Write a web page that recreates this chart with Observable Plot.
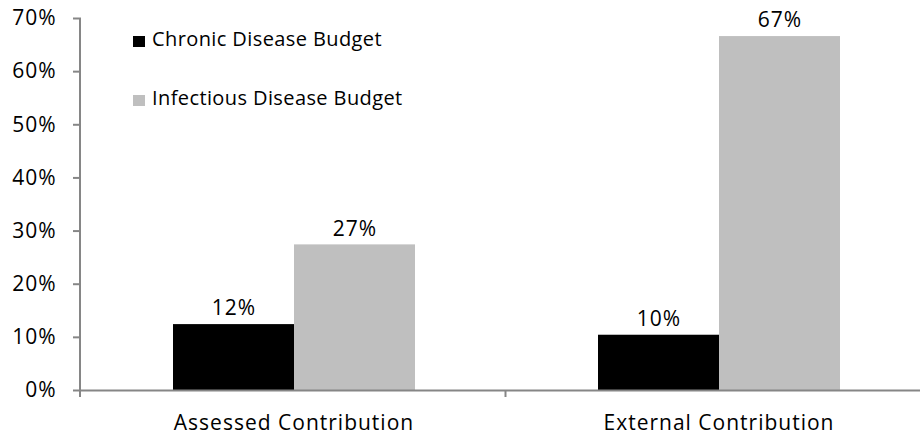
<!DOCTYPE html>
<html>
<head>
<meta charset="utf-8">
<script src="https://cdn.jsdelivr.net/npm/d3@7"></script>
<script src="https://cdn.jsdelivr.net/npm/@observablehq/plot@0.6"></script>
<style>
  html, body { margin: 0; padding: 0; background: #fff; }
  #wrap { position: relative; width: 920px; height: 437px; font-family: "Open Sans", sans-serif; }
  #wrap svg text { letter-spacing: 1px; }
  .legend { position: absolute; left: 133px; font-size: 20px; line-height: 27px; color: #000; white-space: nowrap; letter-spacing: 0.4px; }
  .legend .sw { width: 12px; height: 11px; margin-right: 7px; display: inline-block; vertical-align: -1px; }
</style>
</head>
<body>
<div id="wrap"></div>
<script>
const categories = ["Assessed Contribution", "External Contribution"];
const seriesNames = ["Chronic Disease Budget", "Infectious Disease Budget"];
const chronicValues = [12.4, 10.4];
const infectiousValues = [27.4, 66.6];
const yTicks = [0, 10, 20, 30, 40, 50, 60, 70];
const seriesColors = ["#000000", "#bfbfbf"];

const data = [];
categories.forEach((c, i) => {
  data.push({category: c, series: seriesNames[0], value: chronicValues[i]});
  data.push({category: c, series: seriesNames[1], value: infectiousValues[i]});
});

const axisColor = "#868686";
const W = 920, H = 437;

const chart = Plot.plot({
  width: W,
  height: H,
  marginLeft: 80,
  marginRight: 0,
  marginTop: 18,
  marginBottom: 47,
  style: {fontFamily: "'Open Sans', sans-serif", fontSize: "21px", background: "#fff", color: "#000"},
  fx: {domain: categories, range: [80, 931], paddingInner: 0, paddingOuter: 0, label: null},
  x: {domain: seriesNames, paddingInner: 0, paddingOuter: 0.745, axis: null},
  y: {domain: [0, 70], label: null},
  color: {domain: seriesNames, range: seriesColors},
  marks: [
    Plot.barY(data, {fx: "category", x: "series", y: "value", fill: "series"}),
    Plot.text(data, {fx: "category", x: "series", y: "value", text: d => Math.round(d.value) + "%", dy: -16, fontSize: 21, fill: "#000"}),
    Plot.ruleY([0], {stroke: axisColor, strokeWidth: 2}),
    Plot.axisY({ticks: yTicks, tickFormat: d => d + "%", tickSize: 8, tickPadding: 17, stroke: axisColor, strokeWidth: 2, fontSize: 21, fill: "#000", label: null}),
    Plot.axisFx({anchor: "bottom", tickSize: 0, tickPadding: 25, fontSize: 21, fill: "#000", label: null})
  ]
});

document.getElementById("wrap").appendChild(chart);

// axis line and category boundary ticks, positioned through the plot's own scales
const fx = chart.scale("fx");
const yS = chart.scale("y");
const y0 = yS.apply(0), yTop = yS.apply(70);
const svg = d3.select(chart);
const g = svg.append("g").attr("stroke", axisColor).attr("stroke-width", 2);
const fxScale = d3.scaleBand().domain(fx.domain).range(fx.range);
g.append("line").attr("x1", fxScale(categories[0])).attr("x2", fxScale(categories[0])).attr("y1", yTop).attr("y2", y0 + 7);
categories.forEach(c => {
  const xPos = fxScale(c);
  g.append("line").attr("x1", xPos).attr("x2", xPos).attr("y1", y0).attr("y2", y0 + 7);
});

// legend
const wrap = document.getElementById("wrap");
const legendTops = [25, 84];
seriesNames.forEach((s, i) => {
  const el = document.createElement("div");
  el.className = "legend";
  el.style.top = legendTops[i] + "px";
  el.innerHTML = `<span class="sw" style="background:${seriesColors[i]}"></span><span>${s}</span>`;
  wrap.appendChild(el);
});
</script>
</body>
</html>
